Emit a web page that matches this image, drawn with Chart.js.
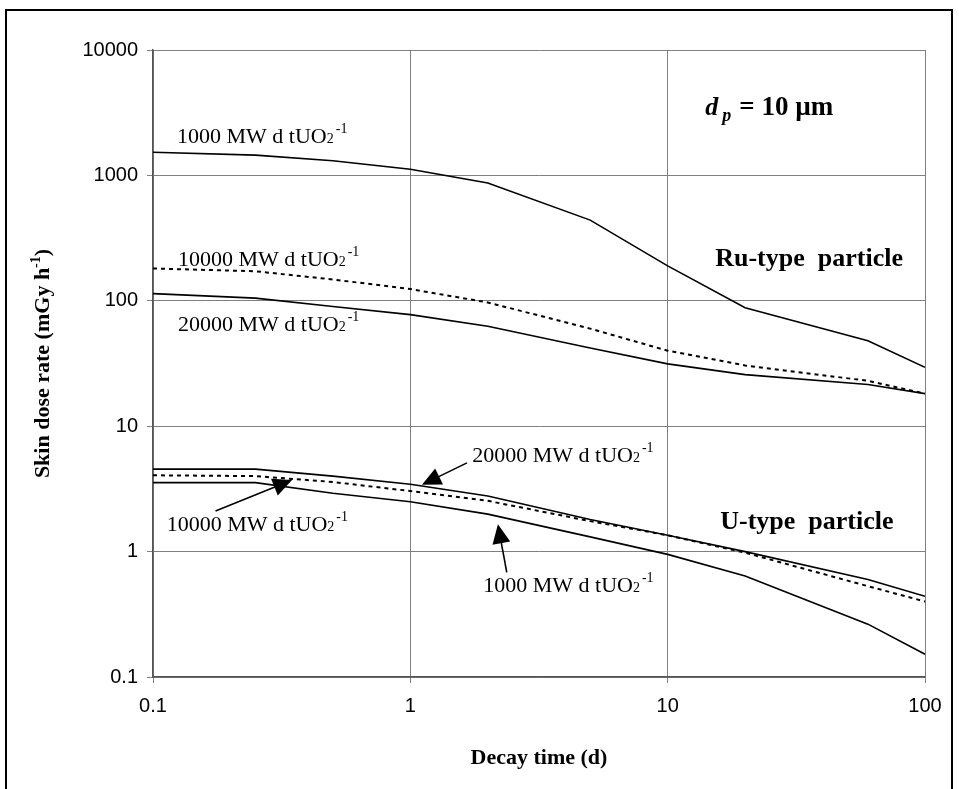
<!DOCTYPE html>
<html>
<head>
<meta charset="utf-8">
<script src="https://cdn.jsdelivr.net/npm/chart.js@4"></script>
<style>
    body { margin: 0; background: #fff; }
    #wrap { position: relative; width: 959px; height: 789px; overflow: hidden; }
    #frame { position: absolute; left: 5px; top: 9px; width: 944px; height: 800px; border: 2px solid #000; pointer-events: none; }
</style>
</head>
<body>
<div id="wrap">
    <canvas id="doseChart" width="959" height="789"></canvas>
    <div id="frame"></div>
</div>
<script>
// decay time (d)
const decayDays = [0.1, 0.25, 0.5, 1, 2, 5, 10, 20, 60, 100];

// Ru-type particle, skin dose rate (mGy/h)
const ru1000 = [1530, 1450, 1310, 1120, 870, 440, 190, 88, 48, 29.5];
const ru10000 = [181, 172, 148, 124, 97, 60, 40, 30.5, 23, 18.2];
const ru20000 = [114, 105, 90, 77.6, 62.7, 42, 31.4, 25.8, 21.5, 18.2];

// U-type particle
const u20000 = [4.55, 4.55, 4.0, 3.44, 2.78, 1.8, 1.35, 1.0, 0.6, 0.44];
const u10000 = [4.06, 4.0, 3.59, 3.04, 2.54, 1.75, 1.35, 0.98, 0.53, 0.40];
const u1000 = [3.55, 3.55, 2.92, 2.5, 1.99, 1.31, 0.95, 0.64, 0.264, 0.152];

const xTicks = [0.1, 1, 10, 100];
const yTicks = [0.1, 1, 10, 100, 1000, 10000];

const serif = '"Liberation Serif", "Times New Roman", serif';

function toPoints(values) {
    return decayDays.map((d, i) => ({ x: d, y: values[i] }));
}

function lineSet(label, values, dashed) {
    return {
        label: label,
        data: toPoints(values),
        borderColor: '#000',
        borderWidth: dashed ? 2 : 1.6,
        borderDash: dashed ? [4, 4] : [],
        pointRadius: 0,
        tension: 0,
        fill: false
    };
}

// label "xxxx MWd tUO2-1" at data position, left/baseline
function drawBurnup(ctx, x, y, amount) {
    ctx.font = '22px ' + serif;
    const main = amount + ' MW d tUO';
    ctx.fillText(main, x, y);
    let w = ctx.measureText(main).width;
    ctx.font = '14px ' + serif;
    ctx.fillText('2', x + w, y);
    w += ctx.measureText('2').width + 2;
    ctx.fillText('-1', x + w, y - 10);
}

function drawArrow(ctx, x1, y1, x2, y2) {
    const ang = Math.atan2(y2 - y1, x2 - x1);
    const len = 19, half = 9;
    ctx.beginPath();
    ctx.moveTo(x1, y1);
    ctx.lineTo(x2 - Math.cos(ang) * len * 0.8, y2 - Math.sin(ang) * len * 0.8);
    ctx.lineWidth = 1.6;
    ctx.strokeStyle = '#000';
    ctx.stroke();
    ctx.beginPath();
    ctx.moveTo(x2, y2);
    ctx.lineTo(x2 - Math.cos(ang) * len - Math.sin(ang) * half, y2 - Math.sin(ang) * len + Math.cos(ang) * half);
    ctx.lineTo(x2 - Math.cos(ang) * len + Math.sin(ang) * half, y2 - Math.sin(ang) * len - Math.cos(ang) * half);
    ctx.closePath();
    ctx.fill();
}

const notesPlugin = {
    id: 'notes',
    afterDraw(chart) {
        const ctx = chart.ctx;
        const xs = chart.scales.x, ys = chart.scales.y;
        const px = v => xs.getPixelForValue(v);
        const py = v => ys.getPixelForValue(v);
        ctx.save();
        ctx.fillStyle = '#000';
        ctx.textAlign = 'left';
        ctx.textBaseline = 'alphabetic';

        // Ru-type labels
        drawBurnup(ctx, px(0.124), py(1820), '1000');
        drawBurnup(ctx, px(0.125), py(188), '10000');
        drawBurnup(ctx, px(0.125), py(57), '20000');

        // U-type labels
        drawBurnup(ctx, px(1.74), py(5.15), '20000');
        drawBurnup(ctx, px(0.113), py(1.46), '10000');
        drawBurnup(ctx, px(1.92), py(0.475), '1000');

        drawArrow(ctx, px(1.66), py(5.1), px(1.11), py(3.41));
        drawArrow(ctx, px(0.175), py(2.11), px(0.347), py(3.72));
        drawArrow(ctx, px(2.37), py(0.682), px(2.19), py(1.65));

        // particle types
        ctx.font = 'bold 26px ' + serif;
        ctx.fillText('Ru-type  particle', px(15.3), py(190));
        ctx.fillText('U-type  particle', px(16.0), py(1.51));

        // d_p = 10 um
        const dx = px(14.0), dy = py(3037);
        ctx.font = 'italic bold 26px ' + serif;
        ctx.fillText('d', dx, dy);
        let w = ctx.measureText('d').width + 4;
        ctx.font = 'italic bold 18px ' + serif;
        ctx.fillText('p', dx + w, dy + 6);
        w += ctx.measureText('p').width + 8;
        ctx.font = 'bold 27px ' + serif;
        ctx.fillText('= 10 µm', dx + w, dy);

        // axis titles
        const ca = chart.chartArea;
        ctx.font = 'bold 22px ' + serif;
        ctx.textAlign = 'center';
        ctx.fillText('Decay time (d)', (ca.left + ca.right) / 2, 764);

        ctx.translate(49, (ca.top + ca.bottom) / 2);
        ctx.rotate(-Math.PI / 2);
        const t1 = 'Skin dose rate (mGy h';
        const t2 = ')';
        ctx.font = 'bold 22px ' + serif;
        const w1 = ctx.measureText(t1).width;
        const w3 = ctx.measureText(t2).width;
        ctx.font = 'bold 14px ' + serif;
        const w2 = ctx.measureText('-1').width;
        let sx = -(w1 + w2 + w3) / 2;
        ctx.textAlign = 'left';
        ctx.font = 'bold 22px ' + serif;
        ctx.fillText(t1, sx, 0);
        ctx.font = 'bold 14px ' + serif;
        ctx.fillText('-1', sx + w1, -9);
        ctx.font = 'bold 22px ' + serif;
        ctx.fillText(t2, sx + w1 + w2, 0);
        ctx.restore();
    }
};

document.addEventListener('DOMContentLoaded', function () {
    const chartEl = document.getElementById('doseChart');

    new Chart(chartEl, {
        type: 'line',
        data: {
            datasets: [
                lineSet('Ru 1000', ru1000, false),
                lineSet('Ru 10000', ru10000, true),
                lineSet('Ru 20000', ru20000, false),
                lineSet('U 20000', u20000, false),
                lineSet('U 10000', u10000, true),
                lineSet('U 1000', u1000, false)
            ]
        },
        options: {
            responsive: false,
            devicePixelRatio: 1,
            animation: false,
            layout: { padding: { left: 0, top: 50, right: 34, bottom: 0 } },
            plugins: {
                legend: { display: false },
                tooltip: { enabled: false }
            },
            scales: {
                x: {
                    type: 'logarithmic',
                    min: 0.1,
                    max: 100,
                    afterBuildTicks: s => { s.ticks = xTicks.map(v => ({ value: v })); },
                    afterFit: s => { s.height = 112; },
                    ticks: {
                        callback: v => String(v),
                        color: '#000',
                        font: { family: '"Liberation Sans", Arial, sans-serif', size: 20 },
                        padding: 11,
                        maxRotation: 0
                    },
                    grid: { color: '#808080', lineWidth: 1, tickLength: 6 },
                    border: { color: '#555', width: 1.5 }
                },
                y: {
                    type: 'logarithmic',
                    min: 0.1,
                    max: 10000,
                    afterBuildTicks: s => { s.ticks = yTicks.map(v => ({ value: v })); },
                    afterFit: s => { s.width = 153; },
                    ticks: {
                        callback: v => String(v),
                        color: '#000',
                        font: { family: '"Liberation Sans", Arial, sans-serif', size: 20 },
                        padding: 9
                    },
                    grid: { color: '#808080', lineWidth: 1, tickLength: 6 },
                    border: { color: '#555', width: 1.5 }
                }
            }
        },
        plugins: [notesPlugin]
    });
});
</script>
</body>
</html>
